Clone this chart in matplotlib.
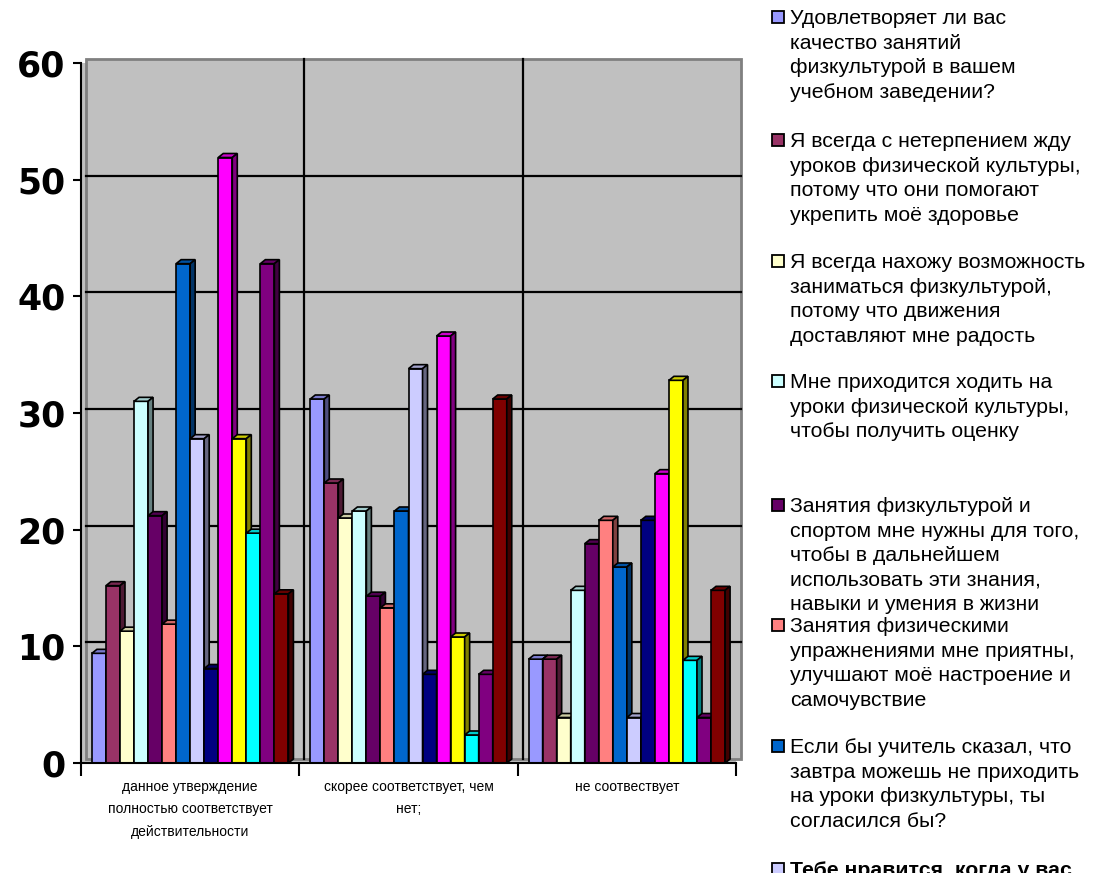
import numpy as np
import matplotlib
matplotlib.use("Agg")
import matplotlib.pyplot as plt
from matplotlib.patches import Rectangle, Polygon
from matplotlib.colors import to_rgb

# survey answers, percent of respondents
categories = ["данное утверждение\nполностью соответствует\nдействительности",
              "скорее соответствует, чем\nнет;",
              "не соотвествует"]

s01 = [9.4, 31.2, 8.9]
s02 = [15.2, 24.0, 8.9]
s03 = [11.3, 21.0, 3.9]
s04 = [31.0, 21.6, 14.8]
s05 = [21.2, 14.3, 18.8]
s06 = [11.9, 13.3, 20.8]
s07 = [42.8, 21.6, 16.8]
s08 = [27.8, 33.8, 3.9]
s09 = [8.1, 7.6, 20.8]
s10 = [51.9, 36.6, 24.8]
s11 = [27.8, 10.8, 32.8]
s12 = [19.7, 2.4, 8.8]
s13 = [42.8, 7.6, 3.9]
s14 = [14.5, 31.2, 14.8]
series = [s01, s02, s03, s04, s05, s06, s07, s08, s09, s10, s11, s12, s13, s14]

colors = ["#9999FF", "#993366", "#FFFFCC", "#CCFFFF", "#660066", "#FF8080", "#0066CC",
          "#CCCCFF", "#000080", "#FF00FF", "#FFFF00", "#00FFFF", "#800080", "#800000"]

labels = [
    ["Удовлетворяет ли вас", "качество занятий", "физкультурой в вашем", "учебном заведении?"],
    ["Я всегда с нетерпением жду", "уроков физической культуры,", "потому что они помогают",
     "укрепить моё здоровье"],
    ["Я всегда нахожу возможность", "заниматься физкультурой,", "потому что движения",
     "доставляют мне радость"],
    ["Мне приходится ходить на", "уроки физической культуры,", "чтобы получить оценку"],
    ["Занятия физкультурой и", "спортом мне нужны для того,", "чтобы в дальнейшем",
     "использовать эти знания,", "навыки и умения в жизни"],
    ["Занятия физическими", "упражнениями мне приятны,", "улучшают моё настроение и",
     "самочувствие"],
    ["Если бы учитель сказал, что", "завтра можешь не приходить", "на уроки физкультуры, ты",
     "согласился бы?"],
    ["Тебе нравится, когда у вас"],
]

W, H = 1105, 873
fig = plt.figure(figsize=(W / 100, H / 100), dpi=100)
ax = fig.add_axes([81 / W, (H - 763) / H, 655 / W, 700 / H])
ax.set_xlim(0, 3)
ax.set_ylim(0, 60)
ax.set_facecolor("#C0C0C0")

# depth of the pseudo-3d extrusion (5 px right, 4 px up)
dx = 5 * 3 / 655
dy = 4 * 60 / 700

# back wall with gridlines
ax.add_patch(Rectangle((dx, dy), 3, 60, facecolor="#C0C0C0", edgecolor="#808080",
                       lw=2, clip_on=False, zorder=0))
for yv in range(10, 60, 10):
    ax.plot([dx, 3 + dx], [yv + dy, yv + dy], color="black", lw=1.6, zorder=1, clip_on=False)
for xv in (1, 2):
    ax.plot([xv + dx, xv + dx], [dy, 60 + dy], color="black", lw=1.6, zorder=1, clip_on=False)


def shade(c, f):
    r, g, b = to_rgb(c)
    return (r * f, g * f, b * f)


n = len(series)
w = 0.9 / n
x = np.arange(len(categories))
z = 2
for ci in range(len(categories)):
    for i, (vals, col) in enumerate(zip(series, colors)):
        x0 = x[ci] + 0.05 + i * w
        h = vals[ci]
        ax.bar(x0, h, width=w, align="edge", color=col, edgecolor="black", lw=1.2,
               zorder=z, clip_on=False)
        top = Polygon([(x0, h), (x0 + w, h), (x0 + w + dx, h + dy), (x0 + dx, h + dy)],
                      closed=True, facecolor=shade(col, 0.8), edgecolor="black", lw=1.2,
                      zorder=z, clip_on=False)
        side = Polygon([(x0 + w, 0), (x0 + w, h), (x0 + w + dx, h + dy), (x0 + w + dx, dy)],
                       closed=True, facecolor=shade(col, 0.5), edgecolor="black", lw=1.2,
                       zorder=z, clip_on=False)
        ax.add_patch(top)
        ax.add_patch(side)
        z += 1

for s in ("top", "right"):
    ax.spines[s].set_visible(False)
for s in ("left", "bottom"):
    ax.spines[s].set_color("black")
    ax.spines[s].set_linewidth(1.5)
    ax.spines[s].set_zorder(100)

ax.set_yticks(range(0, 61, 10))
ax.tick_params(axis="y", direction="out", length=6, width=1.5, pad=5)
for t in ax.get_yticklabels():
    t.set_fontfamily("DejaVu Sans")
    t.set_fontweight("bold")
    t.set_fontsize(25)

ax.set_xticks(x + 0.5)
ax.set_xticklabels(categories, fontsize=10, family=["Liberation Sans Narrow", "Liberation Sans"],
                   linespacing=1.8)
ax.set_xticks(range(0, 4), minor=True)
ax.tick_params(axis="x", which="major", length=0, pad=12)
ax.tick_params(axis="x", which="minor", direction="out", length=9, width=1.5)

# legend on the right, drawn in pixel coordinates
lax = fig.add_axes([0, 0, 1, 1])
lax.set_xlim(0, W)
lax.set_ylim(H, 0)
lax.axis("off")
firsts = [24, 147, 268, 388, 512, 632, 753, 876]
step = 24.6
for k, (lines, y0) in enumerate(zip(labels, firsts)):
    lax.add_patch(Rectangle((772, y0 - 13), 12, 12, facecolor=colors[k], edgecolor="black",
                            lw=1.3))
    for j, line in enumerate(lines):
        lax.text(790, y0 + j * step, line, fontsize=15.3, family="Liberation Sans",
                 va="baseline", ha="left",
                 fontweight="bold" if k == 7 else "normal")

fig.savefig("out.png", dpi=100)
